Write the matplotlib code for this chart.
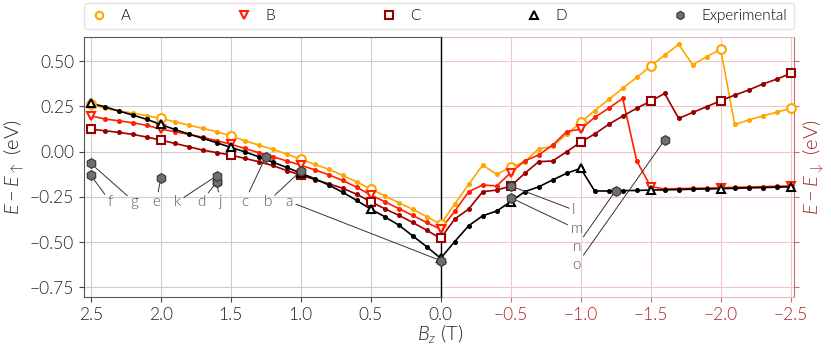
import matplotlib
matplotlib.use("Agg")
import matplotlib.pyplot as plt

plt.rcParams['font.family'] = ['Lato', 'DejaVu Sans']
plt.rcParams['font.weight'] = 300
plt.rcParams['axes.labelweight'] = 300
plt.rcParams['mathtext.fontset'] = 'custom'
plt.rcParams['mathtext.rm'] = 'Lato:weight=300'
plt.rcParams['mathtext.it'] = 'Lato:italic:weight=300'
plt.rcParams['mathtext.bf'] = 'Lato:bold'

# field values: positive side (left panel) and negative side (right panel)
b_pos = [2.5, 2.4, 2.3, 2.2, 2.1, 2.0, 1.9, 1.8, 1.7, 1.6, 1.5, 1.4, 1.3,
         1.2, 1.1, 1.0, 0.9, 0.8, 0.7, 0.6, 0.5, 0.4, 0.3, 0.2, 0.1, 0.0]
b_neg = [0.0, -0.1, -0.2, -0.3, -0.4, -0.5, -0.6, -0.7, -0.8, -0.9, -1.0,
         -1.1, -1.2, -1.3, -1.4, -1.5, -1.6, -1.7, -1.8, -1.9, -2.0,
         -2.1, -2.2, -2.3, -2.4, -2.5]

A_pos = [0.262, 0.239, 0.224, 0.213, 0.198, 0.183, 0.165, 0.146, 0.128, 0.110,
         0.086, 0.060, 0.036, 0.012, -0.014, -0.043, -0.071, -0.098, -0.132,
         -0.168, -0.207, -0.244, -0.283, -0.319, -0.360, -0.402]
A_neg = [-0.402, -0.29, -0.181, -0.075, -0.126, -0.087, -0.056, 0.014, 0.030,
         0.096, 0.161, 0.226, 0.288, 0.349, 0.410, 0.472, 0.533, 0.592, 0.48,
         0.524, 0.566, 0.150, 0.174, 0.197, 0.217, 0.239]

B_pos = [0.198, 0.180, 0.170, 0.159, 0.145, 0.124, 0.110, 0.095, 0.079, 0.060,
         0.041, 0.017, -0.006, -0.028, -0.052, -0.075, -0.101, -0.128, -0.160,
         -0.197, -0.240, -0.277, -0.315, -0.353, -0.392, -0.430]
B_neg = [-0.430, -0.33, -0.222, -0.185, -0.19, -0.117, -0.052, -0.019, 0.036,
         0.11, 0.124, 0.189, 0.239, 0.294, -0.051, -0.194, -0.207, -0.205,
         -0.203, -0.202, -0.200, -0.198, -0.196, -0.194, -0.192, -0.190]

C_pos = [0.124, 0.115, 0.106, 0.095, 0.080, 0.064, 0.045, 0.027, 0.008, -0.006,
         -0.019, -0.038, -0.056, -0.077, -0.105, -0.130, -0.155, -0.178, -0.203,
         -0.236, -0.277, -0.316, -0.352, -0.392, -0.435, -0.480]
C_neg = [-0.480, -0.373, -0.318, -0.222, -0.213, -0.191, -0.121, -0.056, -0.052,
         -0.001, 0.052, 0.097, 0.150, 0.196, 0.239, 0.279, 0.321, 0.183, 0.216,
         0.248, 0.281, 0.312, 0.340, 0.373, 0.400, 0.432]

D_pos = [0.266, 0.248, 0.224, 0.202, 0.178, 0.150, 0.122, 0.097, 0.073, 0.049,
         0.023, -0.001, -0.029, -0.058, -0.088, -0.119, -0.150, -0.185, -0.225,
         -0.270, -0.318, -0.360, -0.406, -0.466, -0.526, -0.590]
D_neg = [-0.590, -0.498, -0.41, -0.355, -0.329, -0.277, -0.222, -0.195, -0.157,
         -0.12, -0.093, -0.218, -0.218, -0.216, -0.215, -0.213, -0.212, -0.210,
         -0.208, -0.207, -0.205, -0.203, -0.201, -0.199, -0.197, -0.195]

# experimental points: label, field, energy, label position
exp_names = ['a', 'b', 'c', 'd', 'e', 'f', 'g', 'j', 'k', 'l', 'm', 'n', 'o']
exp_b = [0.0, 1.0, 1.25, 1.6, 2.0, 2.5, 2.5, 1.6, 1.6, -0.5, -0.5, -1.25, -1.6]
exp_e = [-0.603, -0.108, -0.029, -0.17, -0.148, -0.13, -0.065, -0.17, -0.134,
         -0.19, -0.255, -0.216, 0.064]
lab_b = [1.08, 1.235, 1.40, 1.71, 2.03, 2.36, 2.19, 1.575, 1.88,
         -0.95, -0.97, -0.97, -0.97]
lab_e = [-0.277, -0.277, -0.277, -0.277, -0.277, -0.277, -0.277, -0.277, -0.277,
         -0.323, -0.428, -0.526, -0.627]

series = [
    ('A', A_pos, A_neg, '#ffa500', 'o'),
    ('B', B_pos, B_neg, '#ff2000', 'v'),
    ('C', C_pos, C_neg, '#9b0000', 's'),
    ('D', D_pos, D_neg, '#000000', '^'),
]

fig = plt.figure(figsize=(8.31, 3.46), dpi=100)
ax_l = fig.add_axes([0.101, 0.1416, 0.4293, 0.7514])
ax_r = fig.add_axes([0.5303, 0.1416, 0.4252, 0.7514], sharey=ax_l)
ax_l.set_zorder(2)
ax_r.set_zorder(1)

red_tick = '#b22222'
for name, ypos, yneg, col, mk in series:
    for ax, xs, ys in ((ax_l, b_pos, ypos), (ax_r, b_neg, yneg)):
        ax.plot(xs, ys, color=col, lw=1.2, marker='o', ms=2.6, zorder=3)
        ax.plot(xs[::5], ys[::5], ls='none', marker=mk, ms=6.3,
                mfc='white', mec=col, mew=1.5, zorder=4, label=name,
                clip_on=False)

# experimental points and labels
for nm, bx, ey, lx, ly in zip(exp_names, exp_b, exp_e, lab_b, lab_e):
    ax = ax_l if bx >= 0 else ax_r
    ax.plot(bx, ey, ls='none', marker='h', ms=7, mfc='#6e6e6e', mec='#333333',
            mew=0.8, zorder=6, clip_on=False)
    ax.annotate(nm, xy=(bx, ey), xytext=(lx, ly), ha='center', va='center',
                fontsize=11, color='#555555', zorder=5,
                arrowprops=dict(arrowstyle='-', color='#333333', lw=0.7,
                                shrinkA=0, shrinkB=3))

ax_l.set_xlim(2.548, 0)
ax_l.set_ylim(-0.804, 0.633)
ax_l.set_xticks([2.5, 2.0, 1.5, 1.0, 0.5, 0.0])
ax_l.set_yticks([-0.75, -0.5, -0.25, 0.0, 0.25, 0.5])
ax_l.grid(True, color='#cccccc', lw=0.8)
ax_l.set_axisbelow(True)
ax_l.tick_params(labelsize=12.5, color='#444444', labelcolor='#222222')
for s in ('left', 'top', 'bottom'):
    ax_l.spines[s].set_color('#555555')
ax_l.spines['right'].set_color('black')
ax_l.spines['right'].set_linewidth(1.0)
ax_l.set_ylabel(r'$E - E_{\uparrow}$ (eV)', fontsize=14.5, color='#222222',
                labelpad=3)

ax_r.set_xlim(0, -2.524)
ax_r.set_xticks([-0.5, -1.0, -1.5, -2.0, -2.5])
ax_r.grid(True, color='#f1c6c6', lw=0.8)
ax_r.set_axisbelow(True)
ax_r.yaxis.tick_right()
ax_r.tick_params(axis='y', labelright=False, color='#c07070')
ax_r.tick_params(axis='x', labelsize=12.5, color='#c07070', labelcolor=red_tick)
ax_r.spines['left'].set_visible(False)
ax_r.spines['top'].set_color('#e3b8b8')
ax_r.spines['bottom'].set_color('#e3b8b8')
ax_r.spines['right'].set_color('#c07070')
ax_r.yaxis.set_label_position('right')
ax_r.set_ylabel(r'$E - E_{\downarrow}$ (eV)', fontsize=14.5, color='#a52020',
                labelpad=1)

fig.text(0.5303, 0.035, r'$B_z$ (T)', ha='center', va='center', fontsize=14.5,
         color='#222222')

handles, labels = ax_l.get_legend_handles_labels()
handles = handles[:4]
labels = labels[:4]
exp_h, = ax_l.plot([], [], ls='none', marker='h', ms=7, mfc='#6e6e6e',
                   mec='#333333', mew=0.8)
handles.append(exp_h)
labels.append('Experimental')
fig.legend(handles, labels, loc='lower left', ncol=5, mode='expand',
           bbox_to_anchor=(0.101, 0.916, 0.854, 0.069), borderaxespad=0,
           fontsize=11, handlelength=1.2, handletextpad=0.8, frameon=True,
           edgecolor='#dddddd', fancybox=True, markerscale=0.85)

fig.savefig('out.png', dpi=100)
